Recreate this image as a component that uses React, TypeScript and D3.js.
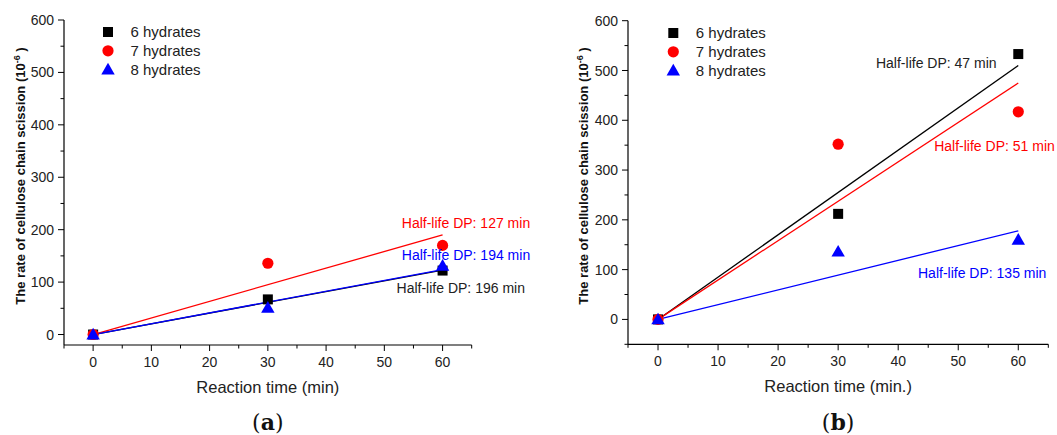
import React from "react";
import * as d3 from "d3";

// ---------- data ----------
const seriesNames = ["6 hydrates", "7 hydrates", "8 hydrates"];
const times = [0, 30, 60];

// panel (a)
const a6 = [0, 67, 122];
const a7 = [0, 136, 170];
const a8 = [0, 51, 131];
const aFitEnd = [123, 190, 124]; // fitted value at 60 min (lines through origin)
const aHalfLife = ["Half-life DP: 196 min", "Half-life DP: 127 min", "Half-life DP: 194 min"];

// panel (b)
const b6 = [0, 212, 533];
const b7 = [0, 352, 417];
const b8 = [0, 136, 160];
const bFitEnd = [510, 475, 178];
const bHalfLife = ["Half-life DP: 47 min", "Half-life DP: 51 min", "Half-life DP: 135 min"];

const yTicks = [0, 100, 200, 300, 400, 500, 600];
const xTicks = [0, 10, 20, 30, 40, 50, 60];

const colors = ["#000000", "#ff0000", "#0000ff"];
const FONT = "'Liberation Sans', Arial, Helvetica, sans-serif";

type Panel = {
  id: string;
  left: number;
  right: number;
  top: number;
  bottom: number;
  yDomain: [number, number];
  values: number[][];
  fitEnd: number[];
  labels: string[];
  annot: { x: number; y: number }[];
  xTitle: string;
  letter: string;
  legendX: number;
  legendY: number;
  yTitleX: number;
};

const panels: Panel[] = [
  {
    id: "a",
    left: 64,
    right: 471.7,
    top: 20,
    bottom: 345,
    yDomain: [-20, 600],
    values: [a6, a7, a8],
    fitEnd: aFitEnd,
    labels: aHalfLife,
    annot: [
      { x: 52.1, y: 80 },
      { x: 53, y: 203 },
      { x: 53, y: 142 },
    ],
    xTitle: "Reaction time (min)",
    letter: "a",
    legendX: 108,
    legendY: 32,
    yTitleX: 25,
  },
  {
    id: "b",
    left: 628,
    right: 1048.3,
    top: 20.7,
    bottom: 344.3,
    yDomain: [-50, 600],
    values: [b6, b7, b8],
    fitEnd: bFitEnd,
    labels: bHalfLife,
    annot: [
      { x: 36.3, y: 505 },
      { x: 46, y: 339 },
      { x: 43.3, y: 82.5 },
    ],
    xTitle: "Reaction time (min.)",
    letter: "b",
    legendX: 673.3,
    legendY: 33,
    yTitleX: 588,
  },
];

function Marker({ kind, x, y, color }: { kind: number; x: number; y: number; color: string }) {
  if (kind === 0) return <rect x={x - 5} y={y - 5} width={10} height={10} fill={color} />;
  if (kind === 1) return <circle cx={x} cy={y} r={5.6} fill={color} />;
  const path = d3.symbol(d3.symbolTriangle, 78)();
  return <path d={path || ""} transform={`translate(${x},${y + 1})`} fill={color} />;
}

function PanelView({ p }: { p: Panel }) {
  const x = d3.scaleLinear().domain([-5, 65]).range([p.left, p.right]);
  const y = d3.scaleLinear().domain(p.yDomain).range([p.bottom, p.top]);
  const minorY = d3.range(50, 600, 100).filter((v) => v > p.yDomain[0]);
  if (p.yDomain[0] <= -50) minorY.unshift(-50);
  const minorX = d3.range(-5, 66, 10);
  const line = d3
    .line<[number, number]>()
    .x((d) => x(d[0]))
    .y((d) => y(d[1]));
  const cx = (p.left + p.right) / 2;
  return (
    <g>
      {/* axes */}
      <line x1={p.left} x2={p.left} y1={p.top} y2={p.bottom} stroke="#000" strokeWidth={1.2} />
      <line x1={p.left} x2={p.right} y1={p.bottom} y2={p.bottom} stroke="#000" strokeWidth={1.2} />
      {yTicks.map((t) => (
        <g key={"yt" + t}>
          <line x1={p.left - 6} x2={p.left} y1={y(t)} y2={y(t)} stroke="#000" strokeWidth={1} />
          <text
            x={p.left - 10}
            y={y(t)}
            dy="0.36em"
            textAnchor="end"
            fontSize={14}
            fontFamily={FONT}
            fill="#222"
          >
            {t}
          </text>
        </g>
      ))}
      {minorY.map((t) => (
        <line key={"ym" + t} x1={p.left - 3.5} x2={p.left} y1={y(t)} y2={y(t)} stroke="#000" strokeWidth={1} />
      ))}
      {xTicks.map((t) => (
        <g key={"xt" + t}>
          <line x1={x(t)} x2={x(t)} y1={p.bottom} y2={p.bottom + 6} stroke="#000" strokeWidth={1} />
          <text
            x={x(t)}
            y={p.bottom + 22}
            textAnchor="middle"
            fontSize={14}
            fontFamily={FONT}
            fill="#222"
          >
            {t}
          </text>
        </g>
      ))}
      {minorX.map((t) => (
        <line key={"xm" + t} x1={x(t)} x2={x(t)} y1={p.bottom} y2={p.bottom + 3.5} stroke="#000" strokeWidth={1} />
      ))}
      {/* titles */}
      <text x={cx} y={p.bottom + 48} textAnchor="middle" fontSize={16.5} fontFamily={FONT} fill="#222">
        {p.xTitle}
      </text>
      <text
        transform={`translate(${p.yTitleX},${176}) rotate(-90)`}
        textAnchor="middle"
        fontSize={13}
        fontWeight="bold"
        fontFamily={FONT}
        fill="#111"
      >
        The rate of cellulose chain scission (10
        <tspan fontSize={9} dy={-5}>
          -6
        </tspan>
        <tspan dy={5}> )</tspan>
      </text>
      <text
        x={cx}
        y={430}
        textAnchor="middle"
        fontSize={22}
        fontFamily="'DejaVu Serif', 'Liberation Serif', serif"
        fill="#111"
      >
        (<tspan fontWeight="bold">{p.letter}</tspan>)
      </text>
      {/* fit lines */}
      {p.fitEnd.map((v, i) => (
        <path
          key={"fit" + i}
          d={line([
            [0, 0],
            [60, v],
          ]) || ""}
          stroke={colors[i]}
          strokeWidth={1.3}
          fill="none"
        />
      ))}
      {/* points */}
      {p.values.map((vals, i) =>
        vals.map((v, j) => <Marker key={`m${i}-${j}`} kind={i} x={x(times[j])} y={y(v)} color={colors[i]} />)
      )}
      {/* annotations */}
      {p.labels.map((s, i) => (
        <text
          key={"an" + i}
          x={x(p.annot[i].x)}
          y={y(p.annot[i].y)}
          fontSize={14}
          fontFamily={FONT}
          fill={i === 0 ? "#222" : colors[i]}
        >
          {s}
        </text>
      ))}
      {/* legend */}
      {seriesNames.map((s, i) => (
        <g key={"lg" + i}>
          <Marker kind={i} x={p.legendX} y={p.legendY + i * 18.8} color={colors[i]} />
          <text
            x={p.legendX + 22.5}
            y={p.legendY + i * 18.8}
            dy="0.36em"
            fontSize={15}
            fontFamily={FONT}
            fill="#222"
          >
            {s}
          </text>
        </g>
      ))}
    </g>
  );
}

export default function App() {
  return (
    <svg
      width={1057}
      height={435}
      style={{ position: "fixed", left: 0, top: 0, background: "#fff" }}
    >
      <rect width={1057} height={435} fill="#fff" />
      {panels.map((p) => (
        <PanelView key={p.id} p={p} />
      ))}
    </svg>
  );
}
